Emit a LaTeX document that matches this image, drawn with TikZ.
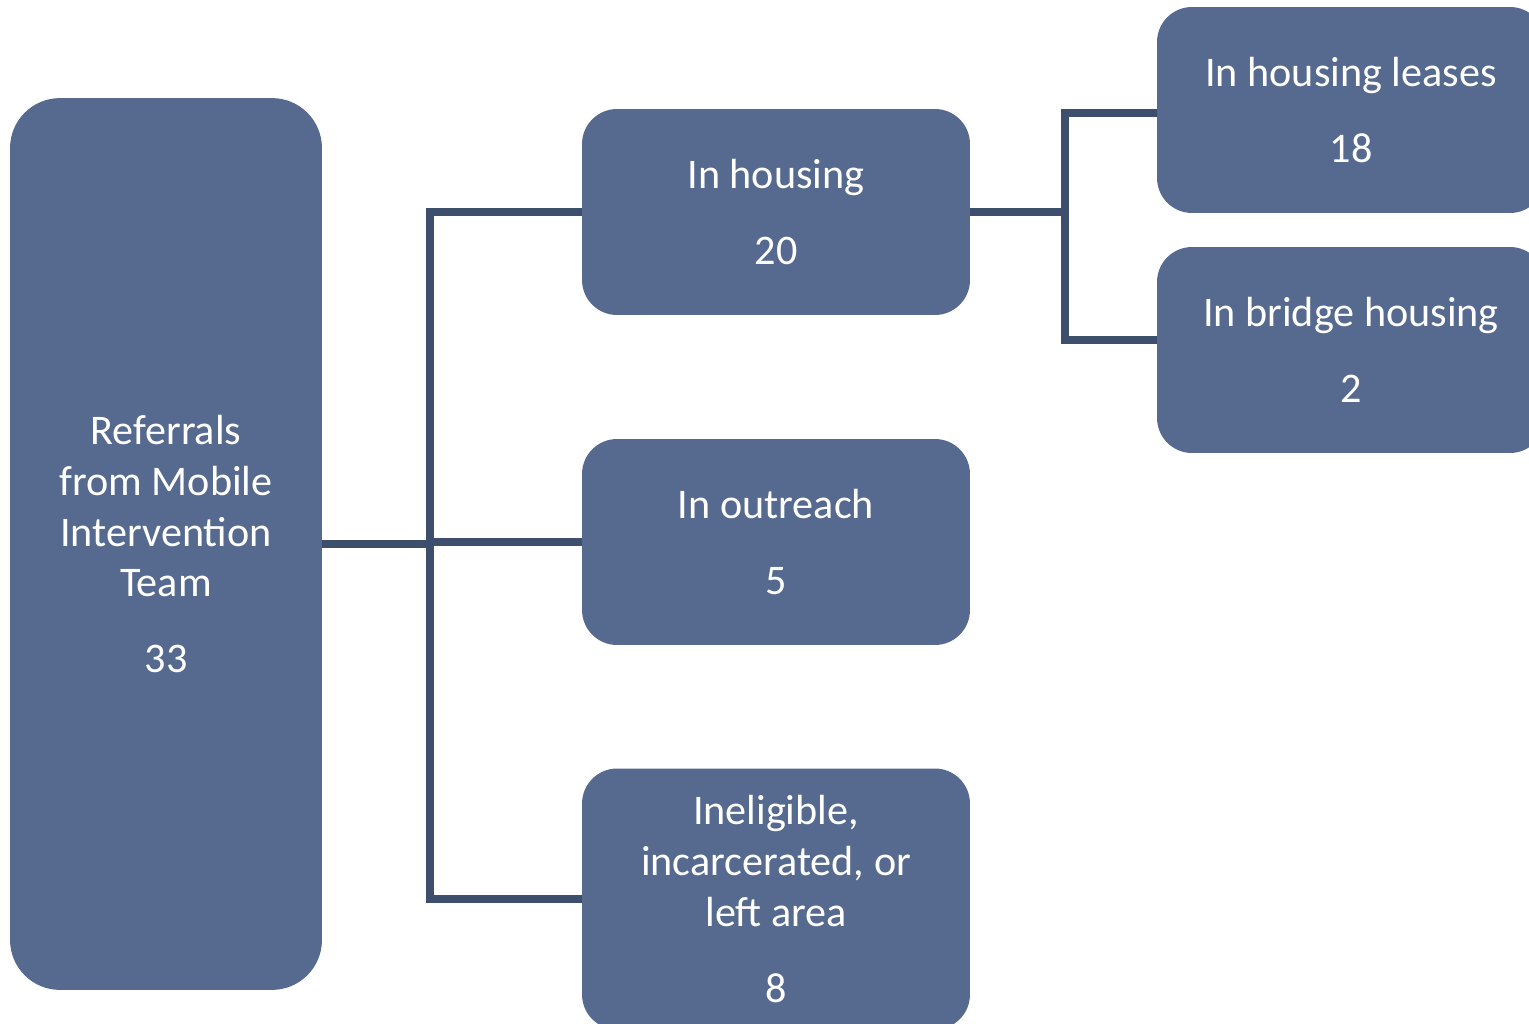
\documentclass[tikz,border=0pt]{standalone}
\usepackage{fontspec}
\setmainfont{Carlito}
\definecolor{boxblue}{HTML}{56698F}
\definecolor{linkblue}{HTML}{3E4F6E}
\begin{document}
\begin{tikzpicture}[
  x=0.02cm, y=-0.02cm,
  tally/.style={rectangle, fill=boxblue, text=white, rounded corners=0.7cm, minimum width=7.76cm, minimum height=4.12cm, align=center, font=\fontsize{24}{29}\selectfont},
  source/.style={tally, rounded corners=1cm, minimum width=6.24cm, minimum height=17.84cm},
  link/.style={draw=linkblue, line width=4pt}
]
\useasboundingbox (0,0) rectangle (1529,1024);

% Source of referrals
\node[source] (mit) at (166,544) {Referrals\\from Mobile\\Intervention\\Team\\[0.5cm]33};

% First split
\node[tally] (housing) at (776,212) {In housing\\[0.5cm]20};
\node[tally] (outreach) at (776,542) {In outreach\\[0.5cm]5};
\node[tally, minimum height=5.22cm] (ineligible) at (776,899) {Ineligible,\\incarcerated, or\\left area\\[0.5cm]8};

% Housing split
\node[tally] (leases) at (1351,110) {In housing leases\\[0.5cm]18};
\node[tally] (bridge) at (1351,350) {In bridge housing\\[0.5cm]2};

% Connectors
\coordinate (split) at (430,544);
\coordinate (hsplit) at (1065,212);
\draw[link] (mit.east |- split) -- (split);
\draw[link] (split) |- (housing.west);
\draw[link] (split) -- (outreach.west -| split) -- (outreach.west);
\draw[link] (split) |- (ineligible.west);
\draw[link] (housing.east) -- (hsplit);
\draw[link] (hsplit) |- ([yshift=-0.06cm]leases.west);
\draw[link] (hsplit) |- ([yshift=0.2cm]bridge.west);

\end{tikzpicture}
\end{document}
